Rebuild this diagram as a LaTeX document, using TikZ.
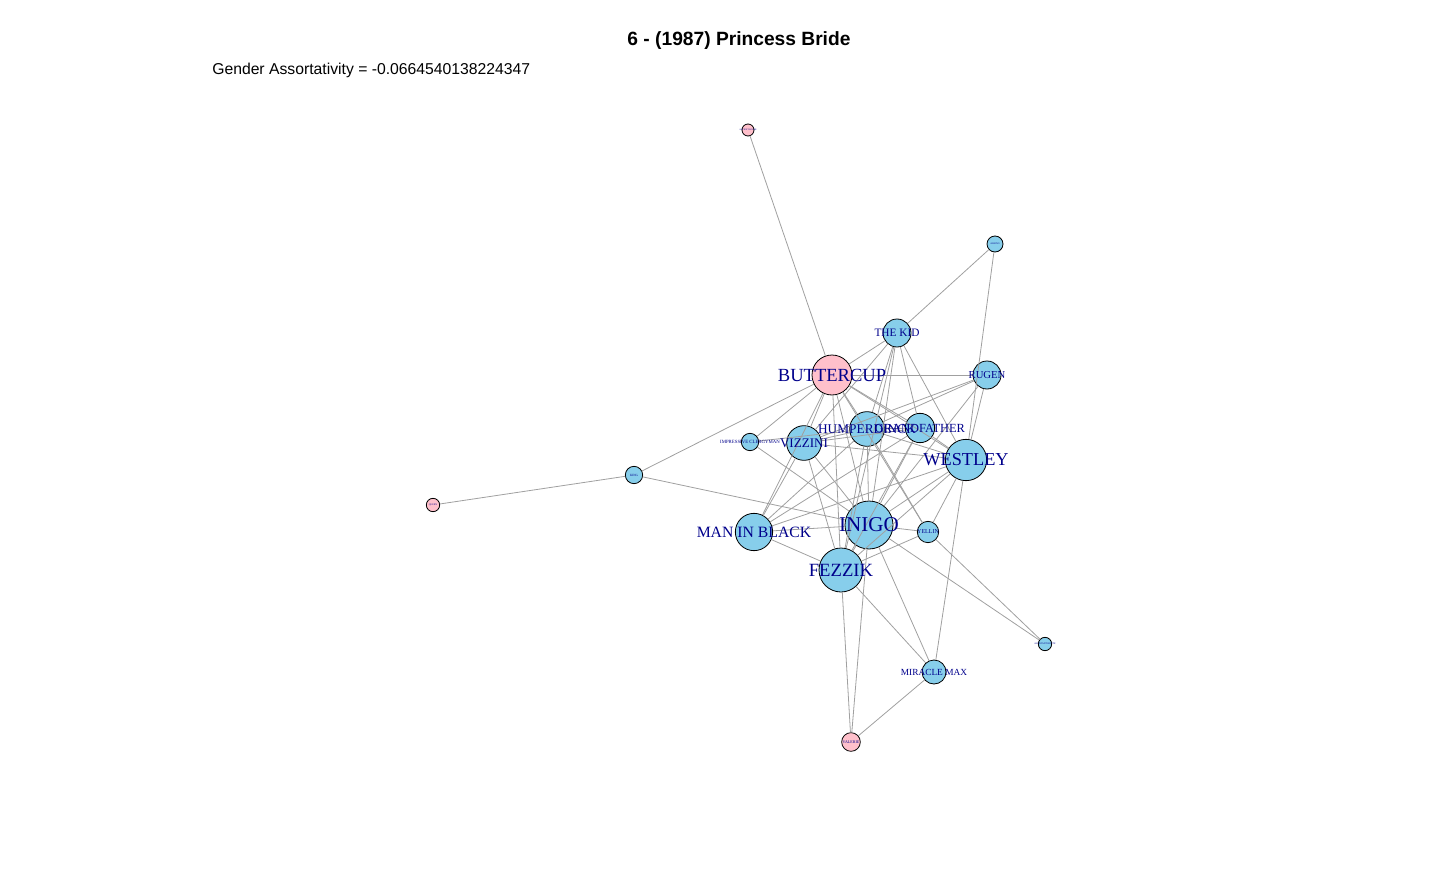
\documentclass[tikz,border=0pt]{standalone}
\usepackage{fontspec}
\setmainfont{Liberation Sans}
\newfontfamily\labfont{Liberation Serif}
\usetikzlibrary{positioning}
\usetikzlibrary{calc}

\definecolor{vpink}{RGB}{255,192,203}
\definecolor{vblue}{RGB}{135,206,235}
\definecolor{labblue}{RGB}{0,0,139}
\definecolor{edgegray}{RGB}{160,160,160}

\tikzset{
  vtx/.style={circle,draw=black,line width=0.6pt,inner sep=0pt},
  lab/.style={text=labblue,inner sep=0pt},
  edge/.style={draw=edgegray,line width=0.6pt}
}

\begin{document}
\begin{tikzpicture}[x=0.75pt,y=-0.75pt]

\useasboundingbox (0,0) rectangle (1440,892);

\node[font=\bfseries\fontsize{14.4}{16}\selectfont] (title) at (739,41) {6 - (1987) Princess Bride};
\node[anchor=west,font=\fontsize{11.8}{14}\selectfont,inner sep=0pt] (assort) at (212,70) {Gender Assortativity = -0.0664540138224347};

% vertices: name/x/y/diameter/fill
\foreach \n/\x/\y/\d/\c in {
  booer/748/130/9/vpink, albino/995/244/12/vblue, kid/897/333/21/vblue,
  buttercup/832/375/30/vpink, rugen/987/375/21/vblue, humperdinck/867/429/26/vblue,
  grandfather/920/428/22/vblue, clergyman/750/442/13/vblue, vizzini/804/443/26/vblue,
  westley/966/460/31/vblue, king/634/475/13/vblue, queen/433/505/10/vpink,
  inigo/869/525/36/vblue, yellin/928/532/16/vblue, mib/754/532/28/vblue,
  fezzik/841/570/33/vblue, brute/1045/644/10/vblue, miracle/934/672/18/vblue,
  valerie/851/742/14/vpink}
  {\node[vtx,fill=\c,minimum size=\d pt] (\n) at (\x,\y) {};}

% connectors
\foreach \a/\b in {
  booer/buttercup, albino/kid, albino/westley, king/queen, king/buttercup, king/inigo,
  clergyman/buttercup, clergyman/humperdinck, clergyman/inigo,
  kid/buttercup, kid/humperdinck, kid/grandfather, kid/westley, kid/inigo, kid/fezzik,
  kid/vizzini,
  buttercup/rugen, buttercup/humperdinck, buttercup/grandfather, buttercup/westley,
  buttercup/vizzini, buttercup/inigo, buttercup/fezzik, buttercup/mib, buttercup/yellin,
  rugen/humperdinck, rugen/westley, rugen/inigo, rugen/vizzini,
  humperdinck/grandfather, humperdinck/westley, humperdinck/vizzini, humperdinck/inigo,
  humperdinck/fezzik, humperdinck/mib, humperdinck/yellin,
  grandfather/westley, grandfather/inigo, grandfather/fezzik, grandfather/vizzini, grandfather/mib,
  vizzini/inigo, vizzini/fezzik, vizzini/mib, vizzini/westley,
  westley/inigo, westley/fezzik, westley/yellin, westley/mib, westley/miracle,
  inigo/fezzik, inigo/mib, inigo/yellin, inigo/miracle, inigo/valerie, inigo/brute,
  fezzik/mib, fezzik/yellin, fezzik/miracle, fezzik/valerie,
  yellin/brute, miracle/valerie}
  {\draw[edge] (\a) -- (\b);}

% labels: node/size in pt/text
\foreach \n/\s/\t in {
  booer/1.6/ANCIENT BOOER, albino/1.8/ALBINO, kid/8.5/THE KID,
  buttercup/13.9/BUTTERCUP, rugen/8/RUGEN, humperdinck/10/HUMPERDINCK,
  grandfather/9.3/GRANDFATHER, clergyman/3.6/IMPRESSIVE CLERGYMAN, vizzini/9.8/VIZZINI,
  westley/13.7/WESTLEY, king/2.4/KING, queen/1.8/QUEEN,
  inigo/15.8/INIGO, yellin/4.5/YELLIN, mib/11.8/MAN IN BLACK,
  fezzik/14/FEZZIK, brute/1.8/ASSISTANT BRUTE, miracle/7/MIRACLE MAX,
  valerie/3/VALERIE}
  {\node[lab,font=\labfont\fontsize{\s}{\s}\selectfont] at (\n) {\t};}

\end{tikzpicture}
\end{document}
